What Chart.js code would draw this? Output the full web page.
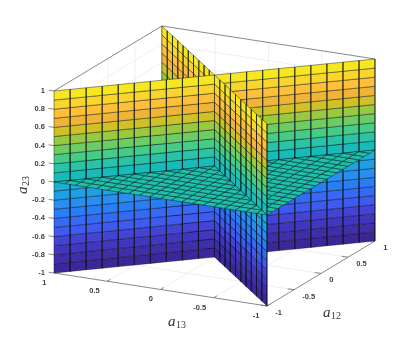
<!DOCTYPE html>
<html><head><meta charset="utf-8">
<style>html,body{margin:0;padding:0;background:#fff}#w{width:415px;height:345px;position:relative}canvas{filter:blur(0.3px)}</style>
<script src="https://cdn.jsdelivr.net/npm/chart.js@4/dist/chart.umd.min.js"></script>
</head><body><div id="w"><canvas id="c" width="415" height="345"></canvas></div>
<script>
const a13Grid=[-1,-0.9,-0.8,-0.7,-0.6,-0.5,-0.4,-0.3,-0.2,-0.1,0,0.1,0.2,0.3,0.4,0.5,0.6,0.7,0.8,0.9,1];
const a12Grid=[-1,-0.9,-0.8,-0.7,-0.6,-0.5,-0.4,-0.3,-0.2,-0.1,0,0.1,0.2,0.3,0.4,0.5,0.6,0.7,0.8,0.9,1];
const a23Grid=[-1,-0.9,-0.8,-0.7,-0.6,-0.5,-0.4,-0.3,-0.2,-0.1,0,0.1,0.2,0.3,0.4,0.5,0.6,0.7,0.8,0.9,1];
const bandColors=['#3d269a','#402ea8','#4336be','#4443d4','#3f5aee','#3669f4','#2a7ef5','#2a8df0','#1fa0e4','#1dadd7','#17bcb8','#2bc3a6','#45cc85','#6bcd62','#98c93f','#cfc126','#f0b536','#fec038','#fad52c','#f6e71f'];
const planeColor='#20bfa8';
const a13Ticks=[1,0.5,0,-0.5,-1];
const a12Ticks=[-1,-0.5,0,0.5,1];
const a23Ticks=[1,0.8,0.6,0.4,0.2,0,-0.2,-0.4,-0.6,-0.8,-1];
const a23TickLabels=['1','0.8','0.6','0.4','0.2','0','-0.2','-0.4','-0.6','-0.8','-1'];

// oblique view of the unit box onto the chart's two linear scales
function proj(a13,a12,a23){
  return {x:-0.6636*a13+0.3364*a12, y:a23+0.1813*a13+0.3571*a12+0.1758};
}
const EDGE='rgba(5,15,25,0.62)';
const polys=[];
function addPoly(pts,color){
  let m=[0,0,0];
  pts.forEach(p=>{m[0]+=p[0];m[1]+=p[1];m[2]+=p[2];});
  m=m.map(v=>v/pts.length);
  const sgn=v=>Math.abs(v)<1e-6?0:(v>0?1:-1);
  polys.push({key:[-sgn(m[1]+m[0]),-sgn(m[1]-m[0]),sgn(m[2])],pts,color});
}
const n=a13Grid.length-1;
for(let i=0;i<n;i++){
  for(let k=0;k<n;k++){
    const z0=a23Grid[k],z1=a23Grid[k+1],c=bandColors[k];
    addPoly([[a13Grid[i],a12Grid[n-i],z0],[a13Grid[i+1],a12Grid[n-i-1],z0],[a13Grid[i+1],a12Grid[n-i-1],z1],[a13Grid[i],a12Grid[n-i],z1]],c);
    addPoly([[a13Grid[i],a12Grid[i],z0],[a13Grid[i+1],a12Grid[i+1],z0],[a13Grid[i+1],a12Grid[i+1],z1],[a13Grid[i],a12Grid[i],z1]],c);
    const A=[a13Grid[i],a12Grid[k],0],B=[a13Grid[i+1],a12Grid[k],0],C=[a13Grid[i+1],a12Grid[k+1],0],D=[a13Grid[i],a12Grid[k+1],0];
    if(i===k){addPoly([A,B,C],planeColor);addPoly([A,C,D],planeColor);}
    else if(i+k===n-1){addPoly([A,B,D],planeColor);addPoly([B,C,D],planeColor);}
    else addPoly([A,B,C,D],planeColor);
  }
}
polys.sort((p,q)=>p.key[0]-q.key[0]||p.key[1]-q.key[1]||p.key[2]-q.key[2]);

const lines=[];
function seg(points,color,w){lines.push({pts:points,color,w});}
const GRID='#e8e8e8',BOX='#6a6a6a';
a13Ticks.forEach(t=>{if(Math.abs(t)<1){
  seg([[t,1,-1],[t,1,1]],GRID,0.7);
  seg([[t,-1,-1],[t,1,-1]],GRID,0.7);
}});
a12Ticks.forEach(t=>{if(Math.abs(t)<1){
  seg([[1,t,-1],[1,t,1]],GRID,0.7);
  seg([[-1,t,-1],[1,t,-1]],GRID,0.7);
}});
a23Ticks.forEach(t=>{if(Math.abs(t)<1){
  seg([[1,-1,t],[1,1,t],[-1,1,t]],GRID,0.7);
}});
seg([[1,-1,1],[1,1,1],[-1,1,1]],BOX,0.8);
seg([[1,-1,-1],[-1,-1,-1],[-1,1,-1]],BOX,0.8);
seg([[1,1,-1],[1,1,1]],BOX,0.8);
const tickLines=[];
a13Ticks.forEach(t=>tickLines.push([[t,-1,-1],[t,-0.94,-1]]));
a12Ticks.forEach(t=>tickLines.push([[-1,t,-1],[-0.94,t,-1]]));
a23Ticks.forEach(t=>tickLines.push([[1,-1,t],[1.05,-1,t]]));
tickLines.forEach(s=>seg(s,BOX,0.8));

const datasets=[];
lines.forEach(l=>datasets.push({
  data:l.pts.map(p=>proj(p[0],p[1],p[2])),borderColor:l.color,borderWidth:l.w,
  pointRadius:0,fill:false,tension:0,clip:false
}));
polys.forEach(p=>{
  const d=p.pts.concat([p.pts[0]]).map(v=>proj(v[0],v[1],v[2]));
  datasets.push({data:d,borderColor:EDGE,borderWidth:0.7,backgroundColor:p.color,
    pointRadius:0,fill:'shape',tension:0,clip:false});
});
datasets.reverse();

const textPlugin={id:'axisText',afterDraw(chart){
  const ctx=chart.ctx,xs=chart.scales.x,ys=chart.scales.y;
  const px=p=>({x:xs.getPixelForValue(p.x),y:ys.getPixelForValue(p.y)});
  ctx.save();
  ctx.fillStyle='#404040';ctx.font='bold 7.5px "Liberation Sans"';ctx.textBaseline='middle';
  ctx.textAlign='right';
  a13Ticks.forEach(t=>{const q=px(proj(t,-1,-1));ctx.fillText(String(t),q.x-7.5,q.y+9.7);});
  ctx.textAlign='left';
  a12Ticks.forEach(t=>{const q=px(proj(-1,t,-1));ctx.fillText(String(t),q.x+8.2,q.y+6.8);});
  function mathLabel(x,y,rot,sub){
    ctx.save();ctx.translate(x,y);ctx.rotate(rot);
    ctx.fillStyle='#333';ctx.textBaseline='alphabetic';ctx.textAlign='left';
    ctx.font='italic 15px "Liberation Serif"';ctx.fillText('a',0,0);
    ctx.font='10px "Liberation Serif"';ctx.fillText(sub,8,2);
    ctx.restore();
  }
  const c13=px(proj(0,-1,-1)),c12=px(proj(-1,0,-1)),c23=px(proj(1,-1,0));
  mathLabel(c13.x+7.5,c13.y+36.5,0,'13');
  mathLabel(c12.x+2,c12.y+44,0,'12');
  mathLabel(c23.x-27,c23.y+12,-Math.PI/2,'23');
  ctx.restore();
}};

new Chart(document.getElementById('c'),{
  type:'line',
  data:{datasets},
  options:{
    responsive:false,animation:false,events:[],
    layout:{padding:{left:0,top:24,right:38,bottom:38}},
    plugins:{legend:{display:false},tooltip:{enabled:false},title:{display:false}},
    elements:{line:{borderJoinStyle:'round'}},
    scales:{
      x:{type:'linear',display:false,min:-1,max:1.0125},
      y:{type:'linear',min:-1.3736,max:1.736,
        afterFit(s){s.width=54;},
        afterBuildTicks(s){s.ticks=a23Ticks.map(v=>({value:v}));},
        border:{display:false},
        grid:{display:false,drawTicks:false},
        ticks:{autoSkip:false,padding:9,color:'#404040',font:{family:'"Liberation Sans"',size:7.5,weight:'bold'},
          callback(v){const i=a23Ticks.indexOf(v);return i<0?'':a23TickLabels[i];}}
      }
    }
  },
  plugins:[textPlugin]
});
</script></body></html>
